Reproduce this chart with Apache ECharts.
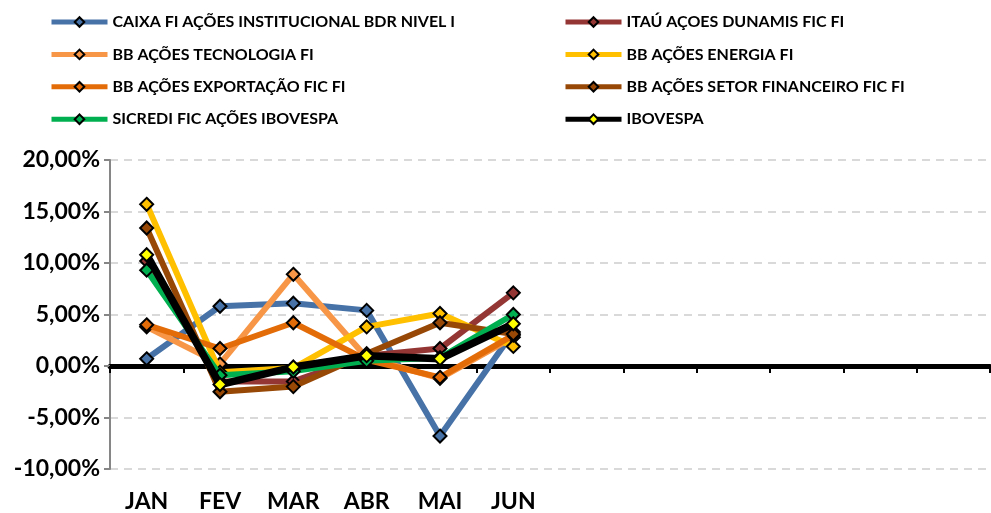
<!DOCTYPE html>
<html>
<head>
<meta charset="utf-8">
<script src="https://cdn.jsdelivr.net/npm/echarts@6/dist/echarts.min.js"></script>
<style>
  html, body { margin: 0; padding: 0; background: #fff; }
  #chart { width: 991px; height: 513px; }
</style>
</head>
<body>
<div id="chart"></div>
<script>
var myChart = echarts.init(document.getElementById('chart'));

// months (only Jan-Jun have data, the rest of the year is blank)
const months = ['JAN', 'FEV', 'MAR', 'ABR', 'MAI', 'JUN', '', '', '', '', '', ''];

// monthly returns in %
const caixa = [0.7, 5.8, 6.1, 5.4, -6.8, 3.3];
const itau = [10.2, -1.5, -1.5, 1.0, 1.7, 7.1];
const tecnologia = [3.8, 0.2, 8.9, 0.8, -1.2, 2.8];
const energia = [15.7, -0.6, -0.2, 3.8, 5.1, 1.9];
const exportacao = [4.0, 1.7, 4.2, 0.6, -1.1, 3.0];
const setorFin = [13.4, -2.5, -2.0, 1.2, 4.2, 3.1];
const sicredi = [9.3, -0.9, -0.5, 0.5, 0.8, 5.0];
const ibovespa = [10.8, -1.8, -0.1, 1.0, 0.7, 4.1];

const names = [
    'CAIXA FI AÇÕES INSTITUCIONAL BDR NIVEL I',
    'ITAÚ AÇOES DUNAMIS FIC FI',
    'BB AÇÕES TECNOLOGIA FI',
    'BB AÇÕES ENERGIA FI',
    'BB AÇÕES EXPORTAÇÃO FIC FI',
    'BB AÇÕES SETOR FINANCEIRO FIC FI',
    'SICREDI FIC AÇÕES IBOVESPA',
    'IBOVESPA'
];
const values = [caixa, itau, tecnologia, energia, exportacao, setorFin, sicredi, ibovespa];
const lineColors = ['#4672A8', '#943634', '#F79646', '#FFC000', '#E36C09', '#974806', '#00B050', '#000000'];
const markerColors = ['#4672A8', '#943634', '#F79646', '#FFC000', '#E36C09', '#974806', '#00B050', '#FFFF00'];

const fontFam = 'Lato, "DejaVu Sans", sans-serif';

const series = names.map((n, i) => ({
    name: n,
    type: 'line',
    data: values[i],
    symbol: 'diamond',
    symbolSize: 13,
    lineStyle: { color: lineColors[i], width: i === 7 ? 7.5 : 6 },
    itemStyle: { color: markerColors[i], borderColor: '#000', borderWidth: 2 },
    z: 2 + i
}));

const legendText = { fontFamily: fontFam, fontWeight: 'bold', fontSize: 16, color: '#000' };
const legendBase = {
    orient: 'vertical', top: 9,
    itemWidth: 56, itemHeight: 12, itemGap: 16.4,
    lineStyle: { width: 5 },
    textStyle: legendText
};

option = {
    animation: false,
    backgroundColor: '#fff',
    legend: [
        Object.assign({}, legendBase, { left: 44, data: [names[0], names[2], names[4], names[6]] }),
        Object.assign({}, legendBase, { left: 558, data: [names[1], names[3], names[5], names[7]] })
    ],
    grid: { left: 110, right: 1, top: 160, bottom: 44, containLabel: false },
    xAxis: [
        {
            type: 'category',
            data: months,
            axisLine: { onZero: true, lineStyle: { color: '#000', width: 5 } },
            axisTick: { show: true, length: 7, lineStyle: { color: '#000', width: 2 } },
            axisLabel: { show: false }
        },
        {
            type: 'category',
            data: months,
            position: 'bottom',
            axisLine: { show: false, onZero: false },
            axisTick: { show: false },
            axisLabel: {
                interval: 0, margin: 21,
                fontFamily: fontFam, fontWeight: 'bold', fontSize: 23, color: '#000'
            }
        }
    ],
    yAxis: {
        type: 'value',
        min: -10, max: 20, interval: 5,
        axisLine: { show: true, lineStyle: { color: '#868686', width: 2 } },
        axisTick: { show: true, length: 6, lineStyle: { color: '#868686', width: 2 } },
        axisLabel: {
            margin: 10,
            fontFamily: fontFam, fontWeight: 'bold', fontSize: 23, color: '#000',
            formatter: v => v.toFixed(2).replace('.', ',') + '%'
        },
        splitLine: { lineStyle: { color: '#D9D9D9', width: 2, type: [8, 6] } }
    },
    series: series
};

myChart.setOption(option);
</script>
</body>
</html>
